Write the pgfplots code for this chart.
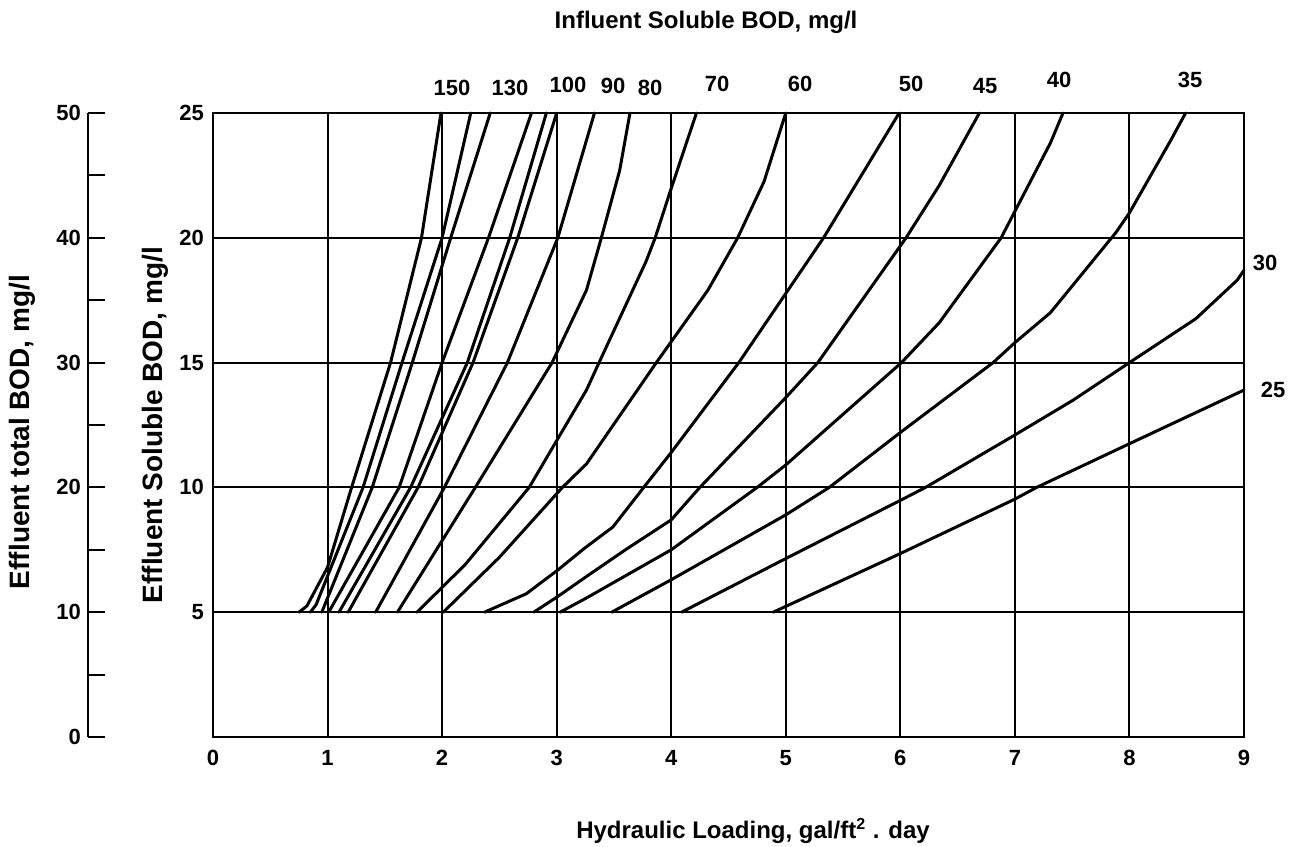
\documentclass[border=0pt]{standalone}
\usepackage{fontspec}
\setmainfont{Liberation Sans}
\usepackage{pgfplots}
\pgfplotsset{compat=1.18}
\begin{document}
\begin{tikzpicture}
\useasboundingbox (-106.5pt,-54.5pt) rectangle (543pt,368.5pt);
\begin{axis}[
  at={(0pt,0pt)}, anchor=south west,
  scale only axis,
  width=515.5pt, height=312pt,
  xmin=0, xmax=9, ymin=0, ymax=25,
  xtick={0,...,9}, xticklabels={0,1,2,3,4,5,6,7,8,9},
  ytick={5,10,15,20,25}, yticklabels={5,10,15,20,25},
  major tick length=0pt,
  grid=major, grid style={black, line width=1pt},
  axis line style={black, line width=1pt},
  ticklabel style={font=\bfseries\fontsize{11}{13}\selectfont},
  xticklabel style={yshift=-3pt},
  yticklabel style={xshift=-1pt},
  clip=false,
  bod/.style={black, solid, line width=1.5pt, line join=round, line cap=round, mark=none},
]
% 150
\addplot[bod] coordinates {(0.75,5) (0.82,5.25) (1.0,6.8) (1.21,10) (1.55,15) (1.82,20) (1.99,25)};
% 140
\addplot[bod] coordinates {(0.85,5) (0.9,5.3) (1.31,10) (1.65,15) (2.0,20) (2.25,25)};
% 130
\addplot[bod] coordinates {(0.95,5) (1.39,10) (1.74,15) (2.075,20) (2.42,25)};
% 120
\addplot[bod] coordinates {(1.01,5) (1.625,10) (2.0,15) (2.405,20) (2.78,25)};
% 110
\addplot[bod] coordinates {(1.10,5) (1.725,10) (2.22,15) (2.59,20) (2.91,25)};
% 100
\addplot[bod] coordinates {(1.18,5) (1.79,10) (2.27,15) (2.66,20) (3.0,25)};
% 90
\addplot[bod] coordinates {(1.42,5) (2.02,10) (2.57,15) (3.01,20) (3.33,25)};
% 80
\addplot[bod] coordinates {(1.61,5) (2.29,10) (2.96,15) (3.26,17.9) (3.39,20) (3.55,22.7) (3.64,25)};
% 70
\addplot[bod] coordinates {(1.78,5) (2.2,6.9) (2.76,10) (3.26,13.9) (3.37,15) (3.78,19.05) (3.86,20) (3.98,21.7) (4.22,25)};
% 60
\addplot[bod] coordinates {(2.01,5) (2.5,7.2) (3.05,10) (3.26,10.94) (3.87,15) (4.32,17.9) (4.58,20) (4.81,22.25) (5.0,25)};
% 50
\addplot[bod] coordinates {(2.37,5) (2.735,5.74) (3.01,6.69) (3.24,7.55) (3.49,8.41) (3.76,10) (4.0,11.4) (4.59,15) (5.33,20) (5.99,25)};
% 45
\addplot[bod] coordinates {(2.80,5) (3.01,5.63) (3.26,6.43) (3.60,7.5) (4.0,8.7) (4.25,10) (5.0,13.6) (5.28,15) (6.05,20) (6.34,22.1) (6.69,25)};
% 40
\addplot[bod] coordinates {(3.03,5) (3.26,5.57) (4.0,7.5) (4.75,10) (5.0,10.9) (6.01,15) (6.34,16.6) (6.88,20) (7.31,23.8) (7.42,25)};
% 35
\addplot[bod] coordinates {(3.48,5) (4.0,6.3) (5.0,8.9) (5.38,10) (6.0,12.2) (6.81,15) (7.0,15.8) (7.31,17.0) (7.88,20.2) (8.0,21.0) (8.36,23.9) (8.49,25)};
% 30
\addplot[bod] coordinates {(4.09,5) (5.0,7.15) (6.0,9.48) (6.22,10) (7.0,12.1) (7.51,13.5) (8.0,15.0) (8.58,16.76) (8.94,18.3) (9.0,18.7)};
% 25
\addplot[bod] coordinates {(4.89,5) (6.0,7.35) (7.0,9.53) (7.19,10) (8.0,11.75) (9.0,13.9)};
\end{axis}
\begin{axis}[
  at={(-62.5pt,0pt)}, anchor=south west,
  scale only axis, width=10pt, height=312pt,
  xmin=0, xmax=1, ymin=0, ymax=50,
  hide x axis, axis y line=left,
  axis line style={-, black, line width=1pt},
  ytick={0,10,20,30,40,50}, yticklabels={0,10,20,30,40,50},
  minor ytick={5,15,25,35,45},
  tick align=inside, major tick length=8.5pt, minor tick length=8.5pt,
  tick style={black, line width=1pt},
  ticklabel style={font=\bfseries\fontsize{11}{13}\selectfont},
]
\end{axis}
\begin{scope}[every node/.style={font=\bfseries\fontsize{11}{13}\selectfont, inner sep=0pt}]
\node[font=\bfseries\fontsize{12}{14}\selectfont] at (246.5pt,357.5pt) {Influent Soluble BOD, mg/l};
\node[font=\bfseries\fontsize{12}{14}\selectfont] at (270pt,-47pt) {Hydraulic Loading, gal/ft\textsuperscript{2} . day};
\node[rotate=90, font=\bfseries\fontsize{14}{16}\selectfont] at (-95.5pt,152.5pt) {Effluent total BOD, mg/l};
\node[rotate=90, font=\bfseries\fontsize{14}{16}\selectfont] at (-29pt,156pt) {Effluent Soluble BOD, mg/l};
\node at (119.5pt,324.5pt) {150};
\node at (148.5pt,324.5pt) {130};
\node at (177.5pt,326pt) {100};
\node at (200pt,325.5pt) {90};
\node at (218.5pt,324.5pt) {80};
\node at (252pt,326.5pt) {70};
\node at (293.5pt,326.5pt) {60};
\node at (349pt,326.5pt) {50};
\node at (386pt,325.5pt) {45};
\node at (423pt,328.5pt) {40};
\node at (488.5pt,328.5pt) {35};
\node at (526pt,237pt) {30};
\node at (530pt,173.5pt) {25};
\end{scope}
\end{tikzpicture}
\end{document}
